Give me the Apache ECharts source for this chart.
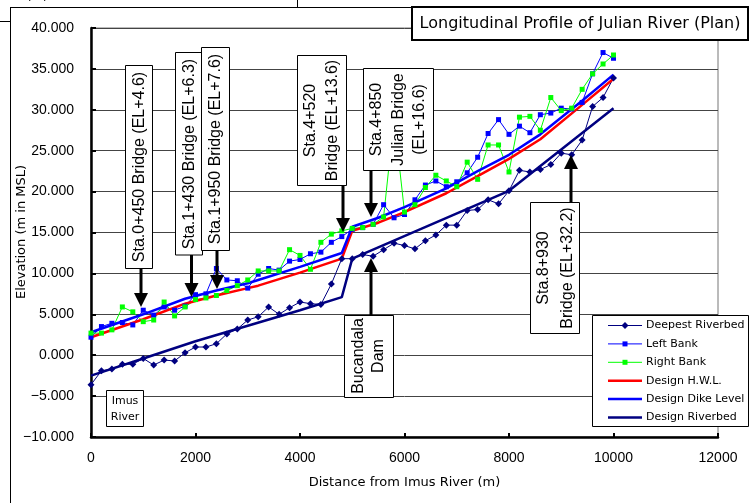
<!DOCTYPE html>
<html>
<head>
<meta charset="utf-8">
<script src="https://cdn.jsdelivr.net/npm/echarts@6/dist/echarts.min.js"></script>
<style>
html,body{margin:0;padding:0;background:#fff;}
#main{width:756px;height:503px;}
</style>
</head>
<body>
<div id="main"></div>
<script>
//測点 (m)
var stations=[0,200,400,600,800,1000,1200,1400,1600,1800,2000,2200,2400,2600,2800,3000,3200,3400,3600,3800,4000,4200,4400,4600,4800,5000,5200,5400,5600,5800,6000,6200,6400,6600,6800,7000,7200,7400,7600,7800,8000,8200,8400,8600,8800,9000,9200,9400,9600,9800,10000];
//最深河床高
var deepest=[-3.6,-1.9,-1.7,-1.1,-1.1,-0.4,-1.2,-0.6,-0.7,0.3,1.0,1.0,1.4,2.6,3.2,4.3,4.7,5.9,5.0,5.8,6.5,6.3,6.2,8.7,11.8,11.8,12.3,12.1,12.9,13.7,13.4,13.0,14.0,14.7,15.9,15.9,17.7,17.8,19.0,18.5,20.1,22.6,22.4,22.7,23.3,24.7,24.5,26.3,30.4,31.5,33.9];
//左岸
var leftBank=[2.2,3.5,3.9,4.0,3.7,5.5,4.9,5.9,5.5,6.0,7.4,7.5,10.6,9.2,9.1,8.2,9.9,10.6,10.4,11.5,11.7,12.4,12.6,13.8,14.5,15.4,15.6,16.0,18.4,16.8,17.2,19.0,20.8,21.3,20.6,21.2,22.3,24.2,27.1,28.8,27.0,28.0,27.2,29.4,29.6,30.2,30.1,30.9,34.4,37.0,36.3];
//右岸
var rightBank=[2.7,2.7,3.1,5.9,5.3,4.1,4.3,6.5,4.8,5.9,6.8,7.0,7.3,7.9,8.5,9.2,10.3,10.3,10.3,12.9,12.2,10.5,13.8,14.8,15.2,15.5,15.6,16.0,16.9,29.0,17.5,18.4,20.5,22.0,21.3,20.6,23.6,21.5,25.7,25.7,22.4,29.1,29.2,27.5,31.5,29.9,30.2,32.5,34.4,35.6,36.7];
//計画線
var designX=[0,1000,1800,2400,3000,3200,4000,4800,5000,5500,6000,6800,7400,8000,8600,9400,10000];
var hwl=[2.2,4.4,6.3,7.3,8.2,8.5,10.1,11.8,15.2,16.2,17.5,19.8,21.9,24.0,26.4,30.6,33.8];
var dike=[2.8,5.0,6.9,7.9,8.8,9.2,10.8,12.5,15.7,16.8,18.1,20.4,22.5,24.5,27.0,31.1,34.3];
var bedX=[0,1000,2000,3000,4000,4800,5000,8000,10000];
var bed=[-2.5,-0.4,1.7,3.6,5.5,7.1,11.8,20.1,30.2];

var seriesNames=['Deepest Riverbed','Left Bank','Right Bank','Design H.W.L.','Design Dike Level','Design Riverbed'];
var seriesColors=['#000080','#0000ff','#00ff00','#ff0000','#0000ff','#000080'];

function pairs(xs,ys){
	var out=[];
	for(var i=0;i<xs.length;i++){out.push([xs[i],ys[i]]);}
	return out;
}

var chart=echarts.init(document.getElementById('main'));

var jp='"DejaVu Sans", sans-serif';
var ar='"Liberation Sans", Arial, sans-serif';

//注記
var g=[];
function txt(x,y,lines,size,lh,font,rot){
	g.push({type:'text',z:101,x:x,y:y,rotation:rot?Math.PI/2:0,
		style:{text:lines.join('\n'),font:size+'px '+font,fill:'#000',lineHeight:lh,
			textAlign:'center',textVerticalAlign:'middle',align:'center',verticalAlign:'middle'}});
}
function box(x,y,w,h,lw){
	g.push({type:'rect',z:100,shape:{x:x,y:y,width:w,height:h},style:{fill:'#fff',stroke:'#000',lineWidth:lw||1}});
}
function arrow(x,from,tip){
	var d=tip>from?1:-1;
	g.push({type:'line',z:100,shape:{x1:x,y1:from,x2:x,y2:tip-d*12},style:{stroke:'#000',lineWidth:3}});
	g.push({type:'polygon',z:100,shape:{points:[[x-7,tip-d*14],[x+7,tip-d*14],[x,tip]]},style:{fill:'#000'}});
}
function line(x1,y1,x2,y2,c){
	g.push({type:'line',z:99,shape:{x1:x1,y1:y1,x2:x2,y2:y2},style:{stroke:c||'#000',lineWidth:1}});
}

//外枠
line(10.5,7.5,10.5,503);
line(10,7.5,748,7.5);
line(0,21.5,10,21.5);
line(297.5,0,297.5,7);
g.push({type:'text',z:99,x:-12,y:-9,style:{text:'Width (m)',font:'12px '+jp,fill:'#000'}});

//縦軸名
txt(22,232,['Elevation (m in MSL)'],13,16,jp,true);

box(125.5,65.5,27,203);
txt(139.5,167,['Sta.0+450 Bridge (EL+4.6)'],16,20,ar,true);
arrow(141,268.5,307);

box(175.5,52.5,27,202.5);
txt(189.5,154,['Sta.1+430 Bridge (EL+6.3)'],16,20,ar,true);
arrow(191.5,255,297);

box(201.5,47.5,28,203);
txt(216,149,['Sta.1+950 Bridge (EL+7.6)'],16,20,ar,true);
arrow(217,250.5,289);

box(297.5,55.5,49,130);
txt(322,120.5,['Sta.4+520','Bridge (EL+13.6)'],16,22,ar,true);
arrow(343,185.5,232);

box(363.5,68.5,70,102);
txt(398.5,119.5,['Sta.4+850','Julian Bridge','(EL+16.6)'],16,21.5,ar,true);
arrow(371,170.5,217);

box(344.5,315.5,49,82);
txt(368.5,356,['Bucandala','Dam'],16,20,ar,true);
arrow(371,315.5,258);

box(530.5,202.5,49,131);
txt(555.5,268,['Sta.8+930','Bridge (EL+32.2)'],16,24,ar,true);
arrow(571,202.5,155);

box(106.5,390.5,37,36);
txt(125,409,['Imus','River'],11,16,jp,false);

//タイトル
box(412,7,336,33,2);
txt(580,24,['Longitudinal Profile of Julian River (Plan)'],16,20,jp,false);

//凡例
box(592.5,315.5,156,111);
for(var i=0;i<seriesNames.length;i++){
	var ly=325.5+i*18.4;
	var lw=i<3?1:2.5;
	g.push({type:'line',z:101,shape:{x1:608,y1:ly,x2:642,y2:ly},style:{stroke:seriesColors[i],lineWidth:lw}});
	if(i===0){
		g.push({type:'polygon',z:102,shape:{points:[[625,ly-3.5],[628.5,ly],[625,ly+3.5],[621.5,ly]]},style:{fill:seriesColors[i]}});
	}else if(i<3){
		g.push({type:'rect',z:102,shape:{x:622.5,y:ly-2.5,width:5,height:5},style:{fill:seriesColors[i]}});
	}
	g.push({type:'text',z:101,x:646,y:ly,style:{text:seriesNames[i],font:'11px '+jp,fill:'#000',
		textVerticalAlign:'middle',verticalAlign:'middle'}});
}

var fmt=function(v){return v.toFixed(3).replace('-','\u2212');};

var option={
	animation:false,
	backgroundColor:'#ffffff',
	grid:{left:91,right:38,top:28,bottom:66,show:true,borderColor:'#777',borderWidth:1,containLabel:false,outerBoundsMode:'none'},
	xAxis:{
		type:'value',min:0,max:12000,interval:2000,
		name:'Distance from Imus River (m)',nameLocation:'middle',nameGap:39,
		nameTextStyle:{fontFamily:'DejaVu Sans',fontSize:13,color:'#000'},
		axisLine:{show:true,onZero:false,lineStyle:{color:'#000',width:2.5}},
		axisTick:{show:true,inside:true,length:4,lineStyle:{color:'#000',width:2}},
		axisLabel:{color:'#000',fontFamily:'Liberation Sans',fontSize:14,margin:14,formatter:function(v){return String(v);}},
		splitLine:{show:false}
	},
	yAxis:{
		type:'value',min:-10,max:40,interval:5,
		axisLine:{show:true,onZero:false,lineStyle:{color:'#000',width:2.5}},
		axisTick:{show:true,inside:true,length:5,lineStyle:{color:'#000',width:2}},
		axisLabel:{color:'#000',fontFamily:'Liberation Sans',fontSize:14,margin:17,formatter:fmt},
		splitLine:{show:true,lineStyle:{color:'#444',width:1}}
	},
	series:[
		{name:seriesNames[0],type:'line',data:pairs(stations,deepest),symbol:'diamond',symbolSize:7,showAllSymbol:true,
			itemStyle:{color:seriesColors[0]},lineStyle:{color:seriesColors[0],width:1},silent:true},
		{name:seriesNames[1],type:'line',data:pairs(stations,leftBank),symbol:'rect',symbolSize:5,showAllSymbol:true,
			itemStyle:{color:seriesColors[1]},lineStyle:{color:seriesColors[1],width:1},silent:true},
		{name:seriesNames[2],type:'line',data:pairs(stations,rightBank),symbol:'rect',symbolSize:5,showAllSymbol:true,
			itemStyle:{color:seriesColors[2]},lineStyle:{color:seriesColors[2],width:1},silent:true},
		{name:seriesNames[3],type:'line',data:pairs(designX,hwl),symbol:'none',
			lineStyle:{color:seriesColors[3],width:2.5},silent:true},
		{name:seriesNames[4],type:'line',data:pairs(designX,dike),symbol:'none',
			lineStyle:{color:seriesColors[4],width:2.5},silent:true},
		{name:seriesNames[5],type:'line',data:pairs(bedX,bed),symbol:'none',
			lineStyle:{color:seriesColors[5],width:2.5},silent:true}
	],
	graphic:{elements:g}
};
chart.setOption(option);
</script>
</body>
</html>
